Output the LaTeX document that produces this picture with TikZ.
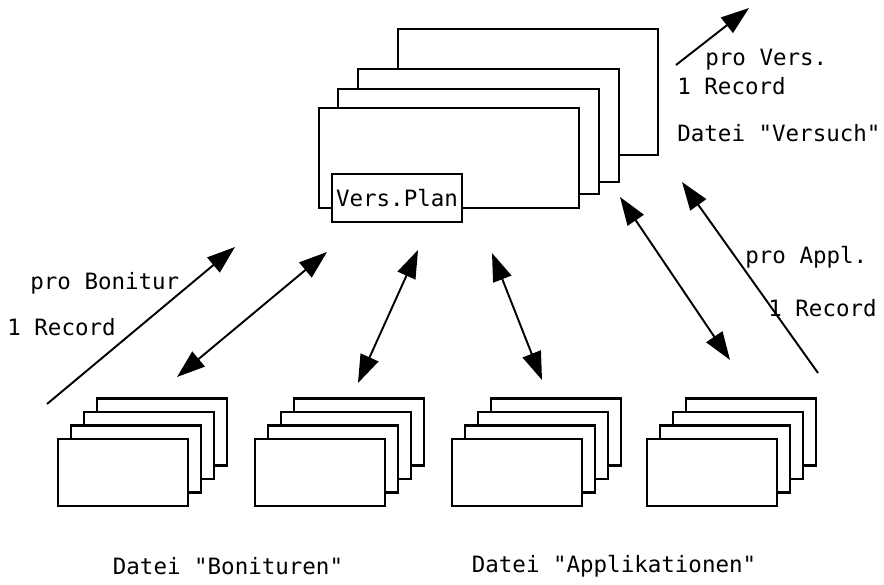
\documentclass[tikz,border=0pt]{standalone}
\usepackage{fontspec}
\setmonofont{DejaVu Sans Mono}
\usepackage{tikz}
\usetikzlibrary{positioning,arrows.meta}
\newcommand*{\schrift}[1]{{\ttfamily\fontsize{12.8}{15}\selectfont #1}}
\tikzset{
  karte/.style={draw,fill=white,line width=1.25pt},
  pfeil/.style={line width=1.1pt,-{Triangle[length=16pt,width=11pt]}},
  dpfeil/.style={line width=1.1pt,{Triangle[length=16pt,width=11pt]}-{Triangle[length=16pt,width=11pt]}},
  lbl/.style={anchor=west,inner sep=0pt}
}
% pile of four cards, front card with top left corner at (#1,#2)
\newcommand*{\stapel}[2]{%
  \begin{scope}[shift={(#1,#2)}]
    \filldraw[karte] (39,-40.5) rectangle ++(130,67);
    \filldraw[karte] (26,-27) rectangle ++(130,67);
    \filldraw[karte] (13,-13.5) rectangle ++(130,67);
    \filldraw[karte] (0,0) rectangle ++(130,67);
  \end{scope}}

\begin{document}
\begin{tikzpicture}[x=0.02cm,y=-0.02cm]
\useasboundingbox (0,0) rectangle (884,584);
% Datei "Versuch": four cards, back to front
\filldraw[karte] (398,29) rectangle (658,155);
\filldraw[karte] (358,69) rectangle (619,182);
\filldraw[karte] (338,89) rectangle (599,194);
\filldraw[karte] (319,108) rectangle (579,208);
\node[karte,minimum width=2.6cm,minimum height=0.96cm,inner sep=0pt] (plan) at (397,198) {\schrift{Vers.Plan}};
% the two files below
\stapel{58}{439}
\stapel{255}{439}
\stapel{452}{439}
\stapel{647}{439}
% Ends of the arrows
\coordinate (v1) at (676,65);   \coordinate (v2) at (749,8);
\coordinate (b1) at (47,404);   \coordinate (b2) at (235,247);
\coordinate (c1) at (177,377);  \coordinate (c2) at (327,252);
\coordinate (d1) at (358,383);  \coordinate (d2) at (418,250);
\coordinate (e1) at (542,380);  \coordinate (e2) at (492,253);
\coordinate (f1) at (730,360);  \coordinate (f2) at (620,197);
\coordinate (a1) at (818,373);  \coordinate (a2) at (682,182);
% Arrows
\draw[pfeil] (v1) -- (v2);
\draw[pfeil] (b1) -- (b2);
\draw[dpfeil] (c1) -- (c2);
\draw[dpfeil] (d1) -- (d2);
\draw[dpfeil] (e1) -- (e2);
\draw[dpfeil] (f1) -- (f2);
\draw[pfeil] (a1) -- (a2);
% Labels
\node[lbl] (proVers) at (705,60) {\schrift{pro Vers.}};
\node[lbl] (recVers) at (677,86) {\schrift{1 Record}};
\node[lbl] (versuch) at (677,133) {\schrift{Datei "Versuch"}};
\node[lbl] (proBon) at (30,283) {\schrift{pro Bonitur}};
\node[lbl] (recBon) at (7,327) {\schrift{1 Record}};
\node[lbl] (proAppl) at (745,257) {\schrift{pro Appl.}};
\node[lbl] (recAppl) at (768,308) {\schrift{1 Record}};
\node (bonituren) at (228,566) {\schrift{Datei "Bonituren"}};
\node (applikationen) at (614,566) {\schrift{Datei "Applikationen"}};
\end{tikzpicture}
\end{document}
